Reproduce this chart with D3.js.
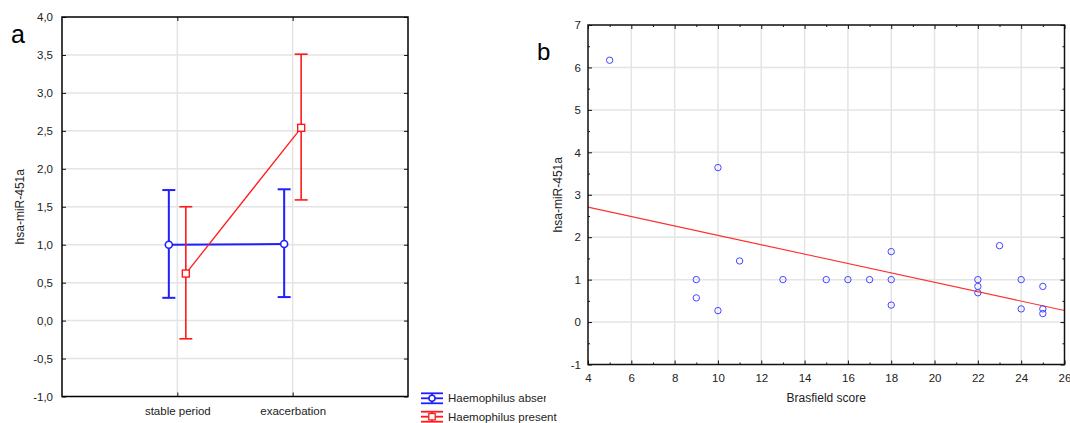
<!DOCTYPE html>
<html>
<head>
<meta charset="utf-8">
<script src="https://cdn.jsdelivr.net/npm/d3@7"></script>
<style>
  html, body { margin: 0; padding: 0; background: #fff; }
  svg { display: block; font-family: "Liberation Sans", Arial, sans-serif; }
</style>
</head>
<body>
<svg id="chart" width="1070" height="423"></svg>
<script>
// ---- Panel a: mean hsa-miR-451a (with intervals) by clinical period ----
const periods = ["stable period", "exacerbation"];
const groupNames = ["Haemophilus absent", "Haemophilus present"];
const absentMean = [1.00, 1.01];
const absentLow = [0.30, 0.31];
const absentHigh = [1.72, 1.73];
const presentMean = [0.62, 2.54];
const presentLow = [-0.24, 1.59];
const presentHigh = [1.50, 3.51];
const yTicksA = [-1.0, -0.5, 0.0, 0.5, 1.0, 1.5, 2.0, 2.5, 3.0, 3.5, 4.0];

// ---- Panel b: hsa-miR-451a against Brasfield score ----
const brasfield = [5, 10, 9, 9, 10, 11, 13, 15, 16, 17, 18, 18, 18, 22, 22, 22, 23, 24, 24, 25, 25, 25];
const mir451a = [6.17, 3.64, 1.00, 0.57, 0.27, 1.44, 1.00, 1.00, 1.00, 1.00, 1.00, 1.66, 0.40,
                 1.00, 0.84, 0.69, 1.80, 1.00, 0.31, 0.84, 0.31, 0.20];
const xTicksB = [4, 6, 8, 10, 12, 14, 16, 18, 20, 22, 24, 26];
const yTicksB = [-1, 0, 1, 2, 3, 4, 5, 6, 7];

const BLUE = "#1f1fff";
const RED = "#ff1a1a";
const GRID = "#e4e4e4";
const TEXT = "#222";
const TICK_FONT = 11.5;
const TITLE_FONT = 12;

const svg = d3.select("#chart");
svg.append("rect").attr("width", 1070).attr("height", 423).attr("fill", "#fff");

const commaFmt = d3.formatLocale({
  decimal: ",", thousands: " ", grouping: [3], currency: ["", ""], minus: "-"
}).format(".1f");
const plainFmt = d3.formatLocale({
  decimal: ".", thousands: ",", grouping: [3], currency: ["", ""], minus: "-"
}).format("d");

function styleAxis(g) {
  g.select(".domain").remove();
  g.selectAll(".tick line").attr("stroke", "#111").attr("stroke-width", 1);
  g.selectAll(".tick text").attr("fill", TEXT).attr("font-size", TICK_FONT)
    .attr("font-family", "'Liberation Sans', Arial, sans-serif");
}

// ================= Panel a =================
const A = { left: 62, right: 408, top: 17, bottom: 396.5 };
const xA = d3.scalePoint().domain(periods).range([A.left, A.right]).padding(1);
const yA = d3.scaleLinear().domain([-1, 4]).range([A.bottom, A.top]);
const pa = svg.append("g");

// grid
pa.append("g").selectAll("line").data(yTicksA.filter(v => v > -1 && v < 4)).join("line")
  .attr("x1", A.left).attr("x2", A.right)
  .attr("y1", d => yA(d)).attr("y2", d => yA(d))
  .attr("stroke", GRID).attr("stroke-width", 1.5);
pa.append("g").selectAll("line").data(periods).join("line")
  .attr("x1", d => xA(d)).attr("x2", d => xA(d))
  .attr("y1", A.top).attr("y2", A.bottom)
  .attr("stroke", GRID).attr("stroke-width", 1.5);

// axes (ticks point into the plot)
pa.append("g").attr("transform", `translate(${A.left},0)`)
  .call(d3.axisLeft(yA).tickValues(yTicksA).tickFormat(commaFmt).tickSize(-4).tickSizeOuter(0).tickPadding(9))
  .call(styleAxis);
pa.append("g").attr("transform", `translate(${A.right},0)`)
  .call(d3.axisRight(yA).tickValues(yTicksA).tickFormat("").tickSize(-4).tickSizeOuter(0))
  .call(styleAxis);
pa.append("g").attr("transform", `translate(0,${A.bottom})`)
  .call(d3.axisBottom(xA).tickSize(-4).tickSizeOuter(0).tickPadding(10))
  .call(styleAxis);
pa.append("g").attr("transform", `translate(0,${A.top})`)
  .call(d3.axisTop(xA).tickFormat("").tickSize(-4).tickSizeOuter(0))
  .call(styleAxis);

// series
const seriesA = [
  { name: groupNames[0], mean: absentMean, low: absentLow, high: absentHigh, color: BLUE, dx: -8.5, marker: "circle", lw: 2 },
  { name: groupNames[1], mean: presentMean, low: presentLow, high: presentHigh, color: RED, dx: 8.5, marker: "square", lw: 1.6 }
];
const capHalf = 6.5;
seriesA.forEach(s => {
  const g = pa.append("g");
  const pts = periods.map((p, i) => ({ x: xA(p) + s.dx, m: s.mean[i], lo: s.low[i], hi: s.high[i] }));
  // whiskers and caps
  g.selectAll("line.w").data(pts).join("line").attr("class", "w")
    .attr("x1", d => d.x).attr("x2", d => d.x)
    .attr("y1", d => yA(d.lo)).attr("y2", d => yA(d.hi))
    .attr("stroke", s.color).attr("stroke-width", s.lw);
  g.selectAll("line.ch").data(pts).join("line").attr("class", "ch")
    .attr("x1", d => d.x - capHalf).attr("x2", d => d.x + capHalf)
    .attr("y1", d => yA(d.hi)).attr("y2", d => yA(d.hi))
    .attr("stroke", s.color).attr("stroke-width", s.lw);
  g.selectAll("line.cl").data(pts).join("line").attr("class", "cl")
    .attr("x1", d => d.x - capHalf).attr("x2", d => d.x + capHalf)
    .attr("y1", d => yA(d.lo)).attr("y2", d => yA(d.lo))
    .attr("stroke", s.color).attr("stroke-width", s.lw);
  // connecting line
  g.append("path").datum(pts)
    .attr("d", d3.line().x(d => d.x).y(d => yA(d.m)))
    .attr("fill", "none").attr("stroke", s.color).attr("stroke-width", s.marker === "circle" ? 2 : 1.3);
  // markers
  if (s.marker === "circle") {
    g.selectAll("circle").data(pts).join("circle")
      .attr("cx", d => d.x).attr("cy", d => yA(d.m)).attr("r", 3.5)
      .attr("fill", "#fff").attr("stroke", s.color).attr("stroke-width", 1.6);
  } else {
    g.selectAll("rect").data(pts).join("rect")
      .attr("x", d => d.x - 3.5).attr("y", d => yA(d.m) - 3.5)
      .attr("width", 7).attr("height", 7)
      .attr("fill", "#fff").attr("stroke", s.color).attr("stroke-width", 1.4);
  }
});

// frame
pa.append("rect").attr("x", A.left).attr("y", A.top)
  .attr("width", A.right - A.left).attr("height", A.bottom - A.top)
  .attr("fill", "none").attr("stroke", "#000").attr("stroke-width", 1.5);

// titles
pa.append("text").attr("transform", `translate(20,${(A.top + A.bottom) / 2}) rotate(-90)`)
  .attr("text-anchor", "middle").attr("dominant-baseline", "central")
  .attr("font-size", TITLE_FONT).attr("fill", TEXT).text("hsa-miR-451a");
pa.append("text").attr("x", 11).attr("y", 43).attr("font-size", 25).attr("fill", "#000").text("a");

// legend
const defs = svg.append("defs");
defs.append("clipPath").attr("id", "legClip1").append("rect")
  .attr("x", 400).attr("y", 385).attr("width", 146).attr("height", 22);
const legY = [398.3, 416.7];
seriesA.forEach((s, i) => {
  const g = pa.append("g");
  const cy = legY[i], x0 = 421, x1 = 443, xm = (x0 + x1) / 2;
  [cy - 5, cy, cy + 5].forEach(yy => g.append("line")
    .attr("x1", x0).attr("x2", x1).attr("y1", yy).attr("y2", yy)
    .attr("stroke", s.color).attr("stroke-width", 1.8));
  g.append("line").attr("x1", xm).attr("x2", xm).attr("y1", cy - 5).attr("y2", cy + 5)
    .attr("stroke", s.color).attr("stroke-width", 1.8);
  if (s.marker === "circle") {
    g.append("circle").attr("cx", xm).attr("cy", cy).attr("r", 3)
      .attr("fill", "#fff").attr("stroke", s.color).attr("stroke-width", 1.5);
  } else {
    g.append("rect").attr("x", xm - 3.2).attr("y", cy - 3.2).attr("width", 6.4).attr("height", 6.4)
      .attr("fill", "#fff").attr("stroke", s.color).attr("stroke-width", 1.3);
  }
  const t = g.append("text").attr("x", 448).attr("y", cy).attr("dominant-baseline", "central")
    .attr("font-size", 11.5).attr("fill", TEXT).text(s.name);
  if (i === 0) t.attr("clip-path", "url(#legClip1)");
});

// ================= Panel b =================
const B = { left: 588, right: 1064.5, top: 25, bottom: 364.5 };
const xB = d3.scaleLinear().domain([4, 26]).range([B.left, B.right]);
const yB = d3.scaleLinear().domain([-1, 7]).range([B.bottom, B.top]);
const pb = svg.append("g");

pb.append("g").selectAll("line").data(yTicksB.filter(v => v > -1 && v < 7)).join("line")
  .attr("x1", B.left).attr("x2", B.right)
  .attr("y1", d => yB(d)).attr("y2", d => yB(d))
  .attr("stroke", GRID).attr("stroke-width", 1.5);
pb.append("g").selectAll("line").data(xTicksB.filter(v => v > 4 && v < 26)).join("line")
  .attr("x1", d => xB(d)).attr("x2", d => xB(d))
  .attr("y1", B.top).attr("y2", B.bottom)
  .attr("stroke", GRID).attr("stroke-width", 1.5);

const xMinorB = d3.range(5, 26, 2);
const yMinorB = d3.range(-0.5, 7, 1);
// major + minor ticks on all four sides
[["left", d3.axisLeft, B.left, yB, yTicksB, yMinorB, 7],
 ["right", d3.axisRight, B.right, yB, yTicksB, yMinorB, 0],
 ["bottom", d3.axisBottom, B.bottom, xB, xTicksB, xMinorB, 9],
 ["top", d3.axisTop, B.top, xB, xTicksB, xMinorB, 0]].forEach(([side, fn, pos, sc, major, minor, pad]) => {
  const tr = (side === "left" || side === "right") ? `translate(${pos},0)` : `translate(0,${pos})`;
  const showLabels = side === "left" || side === "bottom";
  pb.append("g").attr("transform", tr)
    .call(fn(sc).tickValues(major).tickSize(-4).tickSizeOuter(0).tickPadding(pad)
      .tickFormat(showLabels ? plainFmt : ""))
    .call(styleAxis);
  pb.append("g").attr("transform", tr)
    .call(fn(sc).tickValues(minor).tickSize(-2).tickSizeOuter(0).tickFormat(""))
    .call(styleAxis);
});

// least-squares fit of mir451a on brasfield
const mx = d3.mean(brasfield), my = d3.mean(mir451a);
const sxy = d3.sum(brasfield, (x, i) => (x - mx) * (mir451a[i] - my));
const sxx = d3.sum(brasfield, x => (x - mx) * (x - mx));
const slope = sxy / sxx, intercept = my - slope * mx;
const fitX = xB.domain();
pb.append("path").datum(fitX.map(x => [x, intercept + slope * x]))
  .attr("d", d3.line().x(d => xB(d[0])).y(d => yB(d[1])))
  .attr("fill", "none").attr("stroke", "#ff3030").attr("stroke-width", 1.1);

// points
pb.append("g").selectAll("circle").data(brasfield.map((x, i) => [x, mir451a[i]])).join("circle")
  .attr("cx", d => xB(d[0])).attr("cy", d => yB(d[1])).attr("r", 3.2)
  .attr("fill", "none").attr("stroke", "#4444ff").attr("stroke-width", 1);

pb.append("rect").attr("x", B.left).attr("y", B.top)
  .attr("width", B.right - B.left).attr("height", B.bottom - B.top)
  .attr("fill", "none").attr("stroke", "#111").attr("stroke-width", 1.5);

pb.append("text").attr("transform", `translate(558,${(B.top + B.bottom) / 2}) rotate(-90)`)
  .attr("text-anchor", "middle").attr("dominant-baseline", "central")
  .attr("font-size", TITLE_FONT).attr("fill", TEXT).text("hsa-miR-451a");
pb.append("text").attr("x", (B.left + B.right) / 2).attr("y", 398)
  .attr("text-anchor", "middle").attr("dominant-baseline", "central")
  .attr("font-size", TITLE_FONT).attr("fill", TEXT).text("Brasfield score");
pb.append("text").attr("x", 537).attr("y", 60).attr("font-size", 24).attr("fill", "#000").text("b");
</script>
</body>
</html>
